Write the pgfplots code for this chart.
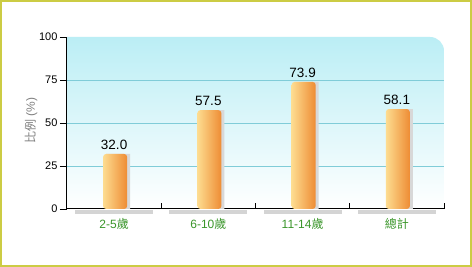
\documentclass[border=0pt]{standalone}
\usepackage{fontspec}
\setmainfont{Liberation Sans}
\newfontfamily\cjk{Noto Sans CJK TC}
\usepackage{pgfplots}
\pgfplotsset{compat=1.18}
\definecolor{framec}{HTML}{CCCC44}
\definecolor{bgtop}{HTML}{BBEEF5}
\definecolor{gridc}{HTML}{80CCD8}
\definecolor{barl}{HTML}{FDDC90}
\definecolor{barr}{HTML}{EE8C34}
\definecolor{lblgreen}{HTML}{3A962A}
\definecolor{shadowc}{HTML}{D8D8D8}
\definecolor{bandc}{HTML}{D4D4D4}
\pgfplotsset{
  orangebar/.style={ybar, bar width=24pt, bar shift=1pt,
    left color=barl, right color=barr, draw=none, rounded corners=3pt,
    nodes near coords={\pgfmathprintnumber[fixed,zerofill,precision=1]{\pgfplotspointmeta}},
    every node near coord/.append style={text=black, font=\fontsize{13.5}{15}\selectfont, yshift=1pt}},
}
\begin{document}
\begin{tikzpicture}
\useasboundingbox (0pt,0pt) rectangle (472pt,267pt);
\fill[white] (0pt,0pt) rectangle (472pt,267pt);
\draw[framec, line width=2pt] (1pt,1pt) rectangle (471pt,266pt);
% plot background with rounded top-right corner
\shade[top color=bgtop, bottom color=white]
  (67pt,58pt) -- (67pt,230pt) -- (430pt,230pt) arc[start angle=90, end angle=0, radius=14pt] -- (444pt,58pt) -- cycle;
\node[rotate=90, text=gray, font=\fontsize{12}{14}\selectfont] at (31pt,146pt) {{\cjk 比例} (\%)};
\begin{axis}[
    at={(67pt,58pt)}, anchor=south west,
    scale only axis, width=377pt, height=172pt,
    xmin=-0.5, xmax=3.5, ymin=0, ymax=100,
    axis x line*=bottom, axis y line*=left,
    axis line style={black, line width=1pt},
    clip=false,
    xtick={0,1,2,3},
    xticklabels={2-5{\cjk 歲}, 6-10{\cjk 歲}, 11-14{\cjk 歲}, {\cjk 總計}},
    xtick style={draw=none},
    xticklabel style={text=lblgreen, font=\fontsize{12}{14}\selectfont, yshift=1pt},
    ytick={0,25,50,75,100},
    tick align=outside,
    major tick length=7pt,
    ytick style={black, line width=0.8pt},
    yticklabel style={font=\fontsize{11}{13}\selectfont, xshift=1pt},
    /pgf/number format/assume math mode=true,
]
\pgfplotsinvokeforeach{25,50,75}{
  \draw[gridc, line width=0.8pt] (axis cs:-0.5,#1) -- (axis cs:3.5,#1);
}
\pgfplotsinvokeforeach{0,1,2,3}{
  \fill[bandc] (axis cs:#1-0.414,-0.7) rectangle (axis cs:#1+0.414,-2.9);
}
\pgfplotsinvokeforeach{0.5,1.5,2.5,3.5}{
  \draw[black, line width=0.8pt] (axis cs:#1,0) -- ([yshift=6pt]axis cs:#1,0);
}
\addplot[ybar, bar width=24pt, bar shift=4pt, fill=shadowc, draw=none]
  coordinates {(0,32.0) (1,57.5) (2,73.9) (3,58.1)};
\addplot[orangebar] coordinates {(0,32.0)};
\addplot[orangebar] coordinates {(1,57.5)};
\addplot[orangebar] coordinates {(2,73.9)};
\addplot[orangebar] coordinates {(3,58.1)};
\end{axis}
\end{tikzpicture}
\end{document}
